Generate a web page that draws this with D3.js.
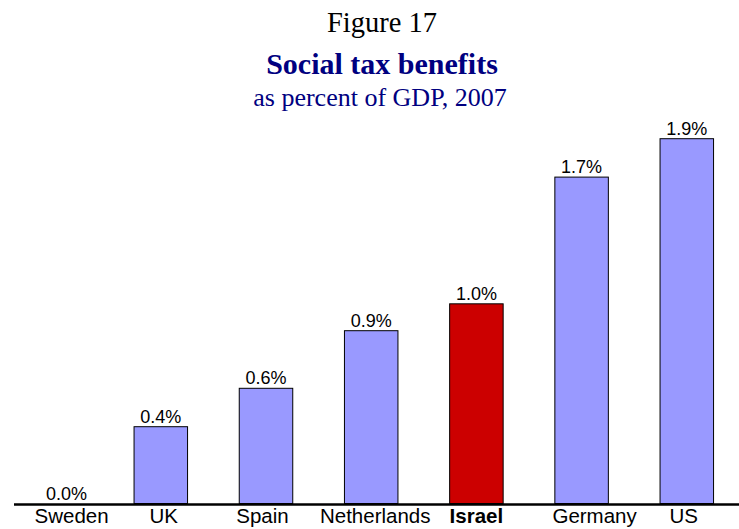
<!DOCTYPE html>
<html>
<head>
<meta charset="utf-8">
<script src="https://cdn.jsdelivr.net/npm/d3@7"></script>
<style>
  html, body { margin: 0; padding: 0; background: #fff; }
  svg { display: block; }
</style>
</head>
<body>
<svg id="chart" width="739" height="529"></svg>
<script>
// Social tax benefits as percent of GDP, 2007
const countries = ["Sweden", "UK", "Spain", "Netherlands", "Israel", "Germany", "US"];
const benefits = [0.0, 0.4, 0.6, 0.9, 1.04, 1.7, 1.9];
const highlight = "Israel";

const W = 739, H = 529;
const svg = d3.select("#chart");

// small horizontal offsets for the category captions (hand-placed text boxes)
const captionShift = { Sweden: 16, UK: 3, Spain: -3.5, Netherlands: 4, Israel: 0, Germany: 13, US: -3 };
const valueShift = { Sweden: 11 };

const x = d3.scaleBand()
  .domain(countries)
  .range([3, 739.4])
  .paddingInner(0.4914)
  .paddingOuter(0.2457);

const y = d3.scaleLinear().domain([0, 2]).range([503.5, 119.5]);

// titles
const titles = svg.append("g").attr("text-anchor", "middle");
titles.append("text")
  .attr("x", 382).attr("y", 32)
  .attr("font-family", "'Liberation Serif', 'Times New Roman', serif")
  .attr("font-size", 28.5)
  .attr("fill", "#000")
  .text("Figure 17");
titles.append("text")
  .attr("x", 382).attr("y", 74)
  .attr("font-family", "'Liberation Serif', 'Times New Roman', serif")
  .attr("font-size", 30)
  .attr("font-weight", "bold")
  .attr("fill", "#000080")
  .text("Social tax benefits");
titles.append("text")
  .attr("x", 380).attr("y", 106)
  .attr("font-family", "'Liberation Serif', 'Times New Roman', serif")
  .attr("font-size", 26)
  .attr("fill", "#000080")
  .text("as percent of GDP, 2007");

const data = countries.map((c, i) => ({ country: c, value: benefits[i] }));

// bars
svg.append("g").selectAll("rect")
  .data(data.filter(d => d.value > 0))
  .join("rect")
  .attr("x", d => x(d.country))
  .attr("y", d => y(d.value))
  .attr("width", x.bandwidth())
  .attr("height", d => y(0) - y(d.value))
  .attr("fill", d => d.country === highlight ? "#CC0000" : "#9999FF")
  .attr("stroke", "#000")
  .attr("stroke-width", 1);

// value labels
const fmt = d3.format(".1f");
svg.append("g").selectAll("text")
  .data(data)
  .join("text")
  .attr("x", d => x(d.country) + x.bandwidth() / 2 + (valueShift[d.country] || 0))
  .attr("y", d => y(d.value) - 4)
  .attr("text-anchor", "middle")
  .attr("font-family", "'Liberation Sans', Arial, sans-serif")
  .attr("font-size", 18)
  .attr("fill", "#000")
  .text(d => fmt(d.value) + "%");

// baseline
svg.append("line")
  .attr("x1", 14).attr("x2", W)
  .attr("y1", y(0) + 1).attr("y2", y(0) + 1)
  .attr("stroke", "#000")
  .attr("stroke-width", 2.5);

// category axis
const axis = svg.append("g")
  .attr("transform", `translate(0,${y(0) + 1})`)
  .call(d3.axisBottom(x).tickSize(0).tickPadding(0));
axis.select(".domain").remove();
axis.selectAll(".tick text")
  .attr("x", d => captionShift[d] || 0)
  .attr("dy", 0)
  .attr("y", 18)
  .attr("font-family", "'Liberation Sans', Arial, sans-serif")
  .attr("font-size", 20.5)
  .attr("font-weight", d => d === highlight ? "bold" : "normal")
  .attr("fill", "#000");
</script>
</body>
</html>
